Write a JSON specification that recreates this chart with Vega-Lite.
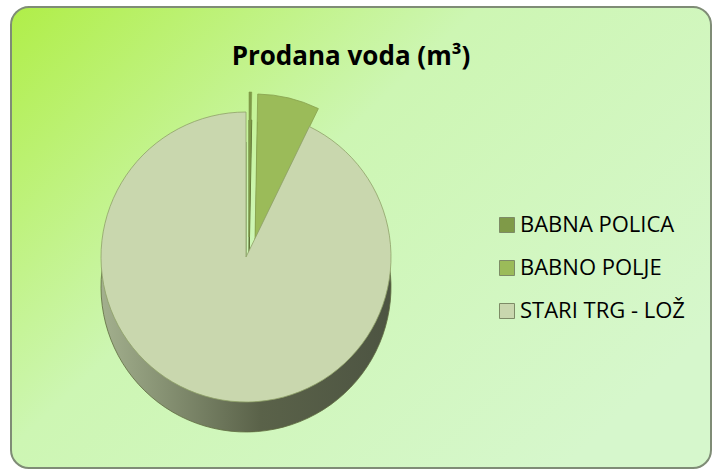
{
  "$schema": "https://vega.github.io/schema/vega-lite/v6.json",
  "width": 700,
  "height": 461,
  "autosize": {"type": "none"},
  "padding": {"left": 11, "top": 7, "right": 4, "bottom": 3},
  "background": "#ffffff",
  "view": {
    "stroke": "#7f8c76",
    "strokeWidth": 2,
    "cornerRadius": 18,
    "fill": {
      "gradient": "linear",
      "x1": 0, "y1": 0, "x2": 1, "y2": 0.7,
      "stops": [
        {"offset": 0, "color": "#b0ee48"},
        {"offset": 0.45, "color": "#cdf6b3"},
        {"offset": 1, "color": "#d6f7cc"}
      ]
    }
  },
  "title": {
    "text": "Prodana voda (m³)",
    "font": "Open Sans",
    "fontSize": 26,
    "fontWeight": "bold",
    "color": "#000000",
    "anchor": "middle",
    "frame": "group",
    "baseline": "middle",
    "offset": -76,
    "dx": -10
  },
  "data": {
    "values": [
      {"name": "BABNA POLICA", "value": 0.3},
      {"name": "BABNO POLJE", "value": 6.9},
      {"name": "STARI TRG - LOŽ", "value": 92.8}
    ]
  },
  "transform": [
    {"stack": "value", "groupby": [], "sort": [{"field": "name", "order": "ascending"}], "offset": "normalize", "as": ["t0", "t1"]}
  ],
  "config": {
    "legend": {
      "labelFont": "Open Sans",
      "labelFontSize": 22,
      "labelColor": "#000000",
      "labelLimit": 400,
      "symbolType": "square",
      "symbolSize": 225,
      "symbolStrokeWidth": 1,
      "symbolStrokeColor": "#7d8b66",
      "rowPadding": 21,
      "labelOffset": 2
    }
  },
  "layer": [
    {
      "transform": [{"filter": "datum.name === 'STARI TRG - LOŽ'"}],
      "mark": {
        "type": "arc",
        "x": 235, "y": 250, "outerRadius": 145, "yOffset": 30,
        "fill": {
          "gradient": "linear", "x1": 0, "y1": 0, "x2": 1, "y2": 0,
          "stops": [
            {"offset": 0, "color": "#a3b08e"},
            {"offset": 0.55, "color": "#5a6249"},
            {"offset": 1, "color": "#4d5442"}
          ]
        },
        "stroke": "#5e6b3f", "strokeWidth": 0.8
      },
      "encoding": {
        "theta": {"field": "t0", "type": "quantitative", "scale": {"domain": [0, 1]}},
        "theta2": {"field": "t1"}
      }
    },
    {
      "transform": [{"filter": "datum.name === 'BABNO POLJE'"}],
      "mark": {"type": "arc", "x": 235, "y": 250, "outerRadius": 145, "xOffset": 9, "yOffset": 10, "fill": "#6c8040", "stroke": "#6c8040"},
      "encoding": {
        "theta": {"field": "t0", "type": "quantitative", "scale": {"domain": [0, 1]}},
        "theta2": {"field": "t1"}
      }
    },
    {
      "transform": [{"filter": "datum.name === 'BABNA POLICA'"}],
      "mark": {"type": "arc", "x": 235, "y": 250, "outerRadius": 145, "xOffset": 3, "yOffset": 8, "fill": "#5f7236", "stroke": "#5f7236"},
      "encoding": {
        "theta": {"field": "t0", "type": "quantitative", "scale": {"domain": [0, 1]}},
        "theta2": {"field": "t1"}
      }
    },
    {
      "transform": [{"filter": "datum.name === 'BABNO POLJE'"}],
      "mark": {"type": "arc", "x": 235, "y": 250, "outerRadius": 145, "xOffset": 9, "yOffset": -18, "stroke": "#86a04c", "strokeWidth": 0.8},
      "encoding": {
        "theta": {"field": "t0", "type": "quantitative", "scale": {"domain": [0, 1]}},
        "theta2": {"field": "t1"},
        "color": {
          "field": "name", "type": "nominal", "title": null,
          "scale": {"domain": ["BABNA POLICA", "BABNO POLJE", "STARI TRG - LOŽ"], "range": ["#7f9a48", "#9bbb59", "#c9d7ae"]},
          "legend": {"orient": "none", "legendX": 485, "legendY": 207}
        }
      }
    },
    {
      "transform": [{"filter": "datum.name === 'BABNA POLICA'"}],
      "mark": {"type": "arc", "x": 235, "y": 250, "outerRadius": 145, "xOffset": 3, "yOffset": -20, "stroke": "#7f9a48", "strokeWidth": 0.6},
      "encoding": {
        "theta": {"field": "t0", "type": "quantitative", "scale": {"domain": [0, 1]}},
        "theta2": {"field": "t1"},
        "color": {"field": "name", "type": "nominal"}
      }
    },
    {
      "transform": [{"filter": "datum.name === 'STARI TRG - LOŽ'"}],
      "mark": {"type": "arc", "x": 235, "y": 250, "outerRadius": 145, "stroke": "#8fa268", "strokeWidth": 0.8},
      "encoding": {
        "theta": {"field": "t0", "type": "quantitative", "scale": {"domain": [0, 1]}},
        "theta2": {"field": "t1"},
        "color": {"field": "name", "type": "nominal"}
      }
    }
  ]
}
